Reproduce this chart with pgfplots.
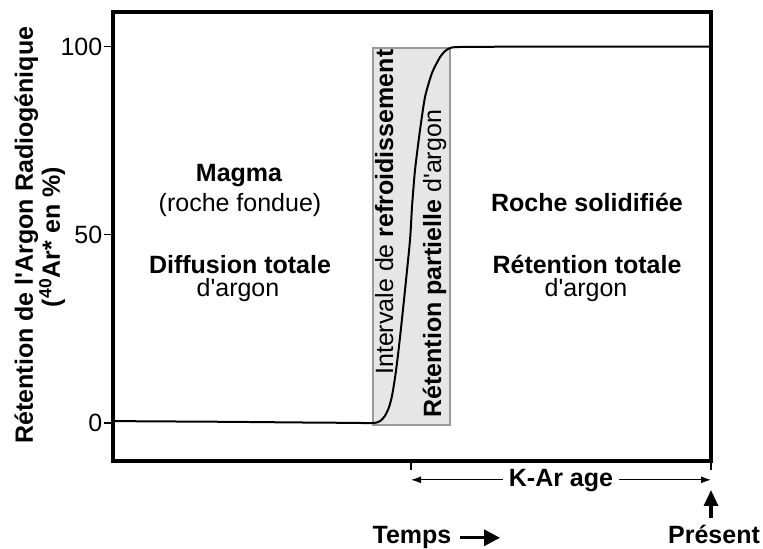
\documentclass[border=0pt]{standalone}
\usepackage{fontspec}
\setmainfont{Liberation Sans}
\usepackage{pgfplots}
\pgfplotsset{compat=1.18}
\usetikzlibrary{arrows.meta}
\definecolor{boxfill}{HTML}{E6E6E6}
\definecolor{boxdraw}{HTML}{9A9A9A}
\begin{document}
\fontsize{12.5}{15}\selectfont
\begin{tikzpicture}[font=\fontsize{12.5}{15}\selectfont]
\useasboundingbox (-56.5pt,-44pt) rectangle (325pt,230.5pt);
\begin{axis}[
  at={(0,0)}, anchor=south west,
  scale only axis, width=299pt, height=224.5pt,
  xmin=0, xmax=598, ymin=-10.1, ymax=109.2,
  clip=false,
  axis line style={line width=2.2pt},
  xtick={298,598}, xticklabels={},
  ytick={0,50,100},
  tick align=outside, xtick pos=bottom, ytick pos=left,
  major tick length=4.5pt,
  tick style={black, line width=0.7pt},
  /pgf/number format/assume math mode=true,
  ticklabel style={font=\fontsize{12.5}{15}\selectfont},
  yticklabel style={xshift=3.5pt},
]
% cooling interval box
\addplot[fill=boxfill, draw=boxdraw, line width=0.75pt] coordinates {(260,-0.6) (337,-0.6) (337,99.6) (260,99.6)} -- cycle;
% retention curve
\addplot[black, line width=1pt, smooth, tension=0.4] coordinates {
(0,0.5) (60,0.4) (120,0.3) (180,0.15) (230,0.05) (260,0)
(267,0.5) (272,1.9) (276,4.2) (279,7.2) (282,12.0) (285,18.1) (288,25.2)
(292,35.3) (297,48.6) (299,57.4) (302,67.2) (307,77.8) (312,86.6) (319,93.0)
(327,97.2) (332,98.8) (337,99.6) (347,99.9) (420,100) (500,100) (598,100)};
% texts
\node[anchor=base, font=\bfseries] at (axis cs:126,64.2) {Magma};
\node[anchor=base] at (axis cs:127,56.1) {(roche fondue)};
\node[anchor=base, font=\bfseries] at (axis cs:127,39.8) {Diffusion totale};
\node[anchor=base] at (axis cs:125,33.5) {d\textquotesingle argon};
\node[anchor=base, font=\bfseries] at (axis cs:474,56.1) {Roche solidifiée};
\node[anchor=base, font=\bfseries] at (axis cs:474,39.8) {Rétention totale};
\node[anchor=base] at (axis cs:473,33.5) {d\textquotesingle argon};
\node[rotate=90, anchor=base west, inner sep=0pt] at (axis cs:280,12.7) {Intervale de \textbf{refroidissement}};
\node[rotate=90, anchor=base west, inner sep=0pt] at (axis cs:328,1.3) {\textbf{Rétention partielle} d\textquotesingle argon};
% y label
\node[rotate=90, anchor=base, font=\bfseries] at (axis cs:-80,49.9) {Rétention de l\textquotesingle Argon Radiogénique};
\node[rotate=90, anchor=base, font=\bfseries] at (axis cs:-53,49.4) {(\textsuperscript{40}Ar* en \%)};
% bottom annotations
\draw[{Latex[length=5pt,width=3.5pt]}-{Latex[length=5pt,width=3.5pt]}, line width=0.6pt] (axis cs:298,-15.1) -- (axis cs:598,-15.1);
\node[anchor=base, fill=white, inner xsep=3pt, inner ysep=1pt, font=\bfseries] at (axis cs:448,-17.0) {K-Ar age};
\node[anchor=base, font=\bfseries] at (axis cs:299,-32.1) {Temps};
\draw[-{Triangle[length=8pt,width=8pt]}, line width=1.6pt] (axis cs:347,-30.5) -- (axis cs:387,-30.5);
\node[anchor=base, font=\bfseries] at (axis cs:601,-32.1) {Présent};
\draw[-{Triangle[length=8pt,width=7pt]}, line width=1.6pt] (axis cs:598,-25.2) -- (axis cs:598,-17.8);
\end{axis}
\end{tikzpicture}
\end{document}
